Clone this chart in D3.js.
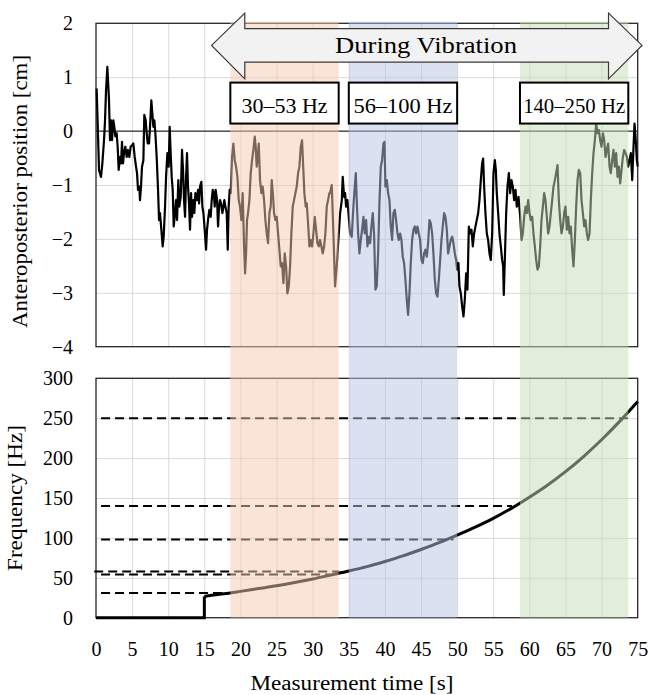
<!DOCTYPE html>
<html>
<head>
<meta charset="utf-8">
<script src="https://cdn.jsdelivr.net/npm/d3@7"></script>
<style>
  body { margin: 0; background: #fff; }
  svg text { font-family: "Liberation Serif", "Times New Roman", serif; fill: #000; }
</style>
</head>
<body>
<svg id="chart" width="650" height="695"></svg>
<script>
// axis ticks
const timeTicks = [0, 5, 10, 15, 20, 25, 30, 35, 40, 45, 50, 55, 60, 65, 70, 75];
const swayTicks = [2, 1, 0, -1, -2, -3, -4];
const freqTicks = [0, 50, 100, 150, 200, 250, 300];

// anteroposterior position [cm] over time [s]
const sway = [
  [0.09, 0.79], [0.42, -0.72], [0.69, -0.85], [0.88, -0.60], [1.11, -0.17], [1.25, 0.20], [1.39, 0.76], [1.57, 1.19],
  [1.71, 0.82], [1.80, 0.57], [1.94, -0.17], [2.08, 0.20], [2.22, -0.17], [2.40, 0.20], [2.54, 0.08], [2.68, -0.10],
  [2.86, -0.04], [3.00, -0.29], [3.14, -0.72], [3.32, -0.48], [3.46, -0.60], [3.60, -0.20], [3.74, -0.60], [3.88, -0.41],
  [4.06, -0.29], [4.25, -0.48], [4.43, -0.35], [4.62, -0.48], [4.80, -0.29], [4.99, -0.26], [5.17, -0.23], [5.36, -0.48],
  [5.54, -0.66], [5.68, -0.78], [5.82, -1.09], [6.00, -1.03], [6.09, -1.28], [6.23, -1.03], [6.37, -0.66], [6.56, -0.54],
  [6.69, 0.30], [6.88, 0.20], [7.02, -0.04], [7.16, -0.23], [7.34, -0.23], [7.48, 0.08], [7.66, 0.57], [7.80, 0.33],
  [7.94, 0.08], [8.08, 0.20], [8.22, -0.04], [8.40, -0.48], [8.59, -1.09], [8.73, -1.65], [8.86, -1.52], [9.05, -1.83],
  [9.23, -2.14], [9.37, -1.96], [9.56, -1.40], [9.70, -0.85], [9.88, -0.41], [10.06, -0.66], [10.20, 0.08], [10.34, -0.41],
  [10.48, -0.85], [10.62, -1.09], [10.76, -1.77], [10.94, -1.52], [11.08, -1.28], [11.22, -1.65], [11.40, -0.91], [11.54, -1.40],
  [11.73, -1.22], [11.91, -0.35], [12.05, -0.72], [12.19, -1.28], [12.33, -1.59], [12.47, -0.85], [12.60, -0.41], [12.74, -1.03],
  [12.88, -1.34], [13.02, -1.83], [13.16, -1.15], [13.30, -1.59], [13.48, -1.28], [13.62, -1.52], [13.76, -1.15], [13.94, -1.28],
  [14.13, -1.09], [14.27, -1.34], [14.40, -1.03], [14.59, -0.94], [14.73, -1.40], [14.87, -1.52], [15.05, -1.83], [15.24, -2.20],
  [15.37, -1.83], [15.56, -1.59], [15.70, -1.46], [15.88, -1.59], [16.02, -1.28], [16.16, -1.09], [16.30, -1.15], [16.44, -1.40],
  [16.57, -1.09], [16.76, -1.28], [16.90, -1.77], [17.04, -1.40], [17.17, -1.28], [17.31, -1.34], [17.50, -1.52], [17.64, -1.40],
  [17.77, -1.28], [17.91, -1.40], [18.10, -1.52], [18.24, -2.20], [18.37, -1.40], [18.51, -1.09], [18.65, -1.15], [18.84, -0.48],
  [19.02, -0.23], [19.21, -0.54], [19.39, -0.66], [19.58, -0.85], [19.76, -1.28], [19.94, -1.40], [20.13, -1.65], [20.31, -1.15],
  [20.50, -2.14], [20.64, -2.64], [20.78, -2.27], [20.91, -1.65], [21.05, -1.52], [21.24, -1.28], [21.42, -0.78], [21.61, -0.54],
  [21.79, -0.35], [21.98, -0.10], [22.11, -0.29], [22.25, -0.66], [22.39, -0.48], [22.53, -0.23], [22.71, -0.91], [22.90, -1.15],
  [23.08, -1.03], [23.27, -1.28], [23.45, -1.65], [23.64, -1.90], [23.82, -2.08], [24.01, -1.52], [24.19, -1.40], [24.33, -0.91],
  [24.52, -1.22], [24.65, -1.52], [24.84, -1.65], [25.02, -1.59], [25.21, -1.90], [25.39, -2.20], [25.58, -2.51], [25.76, -2.45],
  [25.95, -2.82], [26.13, -2.27], [26.32, -2.51], [26.50, -3.01], [26.69, -2.88], [26.87, -2.51], [27.05, -1.90], [27.24, -1.40],
  [27.42, -1.28], [27.61, -1.15], [27.79, -1.03], [27.98, -0.78], [28.16, -0.66], [28.35, -0.29], [28.53, -0.17], [28.67, -0.60],
  [28.85, -1.15], [29.04, -1.40], [29.18, -1.34], [29.36, -1.71], [29.55, -2.14], [29.73, -2.02], [29.92, -2.14], [30.10, -1.90],
  [30.29, -1.59], [30.47, -1.83], [30.66, -2.08], [30.84, -2.14], [31.02, -2.02], [31.21, -2.14], [31.39, -2.27], [31.58, -2.14],
  [31.76, -1.90], [31.95, -1.40], [32.13, -1.28], [32.32, -1.15], [32.41, -1.15], [32.64, -1.00], [32.87, -1.90], [33.10, -2.88],
  [33.33, -2.51], [33.56, -2.02], [33.80, -1.52], [34.03, -1.28], [34.16, -0.85], [34.35, -1.22], [34.49, -1.15], [34.63, -1.40],
  [34.81, -1.28], [35.18, -1.90], [35.41, -1.96], [35.64, -1.40], [35.83, -1.03], [35.97, -0.78], [36.10, -1.28], [36.29, -1.90],
  [36.47, -2.27], [36.66, -2.02], [36.84, -1.83], [37.03, -1.59], [37.21, -1.90], [37.40, -1.65], [37.58, -2.14], [37.77, -1.96],
  [37.95, -2.08], [38.13, -1.77], [38.32, -1.52], [38.50, -1.90], [38.69, -2.94], [38.87, -2.88], [39.06, -2.27], [39.24, -1.34],
  [39.43, -0.66], [39.61, -0.54], [39.80, -0.23], [39.94, -0.20], [40.07, -1.03], [40.26, -0.91], [40.44, -1.15], [40.63, -1.28],
  [40.81, -1.77], [41.00, -2.02], [41.18, -1.52], [41.37, -1.46], [41.55, -1.65], [41.74, -1.90], [41.92, -2.02], [42.11, -1.90],
  [42.29, -2.02], [42.47, -2.33], [42.66, -2.45], [42.84, -2.76], [43.03, -3.13], [43.21, -3.41], [43.40, -3.01], [43.58, -2.45],
  [43.77, -2.02], [43.95, -1.83], [44.14, -1.77], [44.32, -1.90], [44.51, -1.77], [44.69, -1.90], [44.88, -2.02], [45.06, -2.39],
  [45.24, -2.45], [45.43, -2.27], [45.61, -2.20], [45.80, -2.33], [45.98, -2.08], [46.17, -1.65], [46.35, -1.71], [46.54, -1.90],
  [46.72, -2.27], [46.91, -2.76], [47.09, -3.01], [47.28, -3.07], [47.46, -2.76], [47.65, -2.39], [47.83, -2.02], [48.01, -1.77],
  [48.20, -1.52], [48.38, -1.59], [48.57, -1.83], [48.75, -2.27], [48.94, -2.14], [49.12, -2.02], [49.31, -1.96], [49.49, -2.08],
  [49.68, -2.27], [49.86, -2.39], [50.00, -2.57], [50.18, -2.45], [50.32, -2.88], [50.51, -3.01], [50.69, -3.25], [50.88, -3.44],
  [51.06, -3.13], [51.25, -2.64], [51.43, -2.94], [51.52, -2.39], [51.62, -1.77], [51.80, -1.90], [51.99, -1.83], [52.17, -2.14],
  [52.35, -1.90], [52.54, -1.77], [52.72, -1.65], [52.91, -1.52], [53.09, -1.28], [53.28, -0.91], [53.46, -0.60], [53.60, -0.51],
  [53.74, -1.03], [53.92, -1.52], [54.11, -1.90], [54.29, -2.02], [54.48, -2.27], [54.66, -2.39], [54.85, -1.90], [55.03, -0.78],
  [55.22, -0.54], [55.36, -0.72], [55.49, -1.15], [55.68, -1.52], [55.86, -1.90], [56.05, -2.14], [56.23, -2.39], [56.37, -2.51],
  [56.46, -3.04], [56.60, -2.39], [56.79, -1.52], [56.97, -1.03], [57.16, -0.78], [57.34, -1.15], [57.53, -0.91], [57.71, -1.03],
  [57.89, -1.28], [58.08, -1.09], [58.26, -1.40], [58.50, -1.22], [58.73, -1.59], [58.91, -2.02], [59.10, -1.90], [59.28, -1.59],
  [59.46, -1.40], [59.65, -1.52], [59.83, -1.28], [60.02, -1.52], [60.20, -1.65], [60.39, -1.59], [60.57, -1.90], [60.76, -2.14],
  [60.94, -2.39], [61.13, -2.57], [61.31, -2.51], [61.50, -2.14], [61.68, -1.65], [61.87, -1.40], [62.05, -1.15], [62.23, -1.28],
  [62.42, -1.59], [62.60, -1.90], [62.79, -1.77], [62.97, -1.52], [63.16, -1.28], [63.34, -1.03], [63.53, -0.91], [63.71, -0.78],
  [63.90, -0.63], [64.08, -1.28], [64.27, -1.65], [64.45, -1.90], [64.64, -1.77], [64.82, -1.52], [65.00, -1.40], [65.19, -1.83],
  [65.37, -1.59], [65.56, -1.90], [65.74, -1.77], [65.93, -2.20], [66.11, -2.51], [66.30, -2.02], [66.48, -1.40], [66.67, -0.91],
  [66.85, -0.72], [67.04, -0.78], [67.22, -1.28], [67.41, -1.52], [67.59, -1.77], [67.77, -1.65], [67.96, -1.90], [68.14, -2.02],
  [68.33, -1.90], [68.51, -1.28], [68.70, -0.78], [68.88, -0.41], [69.07, -0.17], [69.25, 0.14], [69.44, -0.04], [69.62, 0.02],
  [69.81, -0.17], [69.99, -0.29], [70.18, -0.04], [70.36, -0.17], [70.55, -0.48], [70.73, -0.35], [70.91, -0.23], [71.10, -0.66],
  [71.28, -0.78], [71.47, -0.54], [71.65, -0.35], [71.84, -0.66], [72.02, -0.41], [72.21, -0.85], [72.39, -0.66], [72.58, -0.97],
  [72.76, -0.72], [72.95, -0.48], [73.13, -0.35], [73.32, -0.41], [73.50, -0.48], [73.68, -0.66], [73.87, -0.54], [74.05, -0.41],
  [74.24, -0.91], [74.42, -0.29], [74.56, 0.14], [74.70, -0.10], [74.88, -0.54], [75.0, -0.66]
];

// vibration frequency [Hz] over time [s]: off until 15 s, then sweeping up
const freqOffTime = [0, 15, 15];
const freqOffHz = [0, 0, 26.5];
const freqTime = [15, 16, 18.6, 20, 22.5, 25, 27.5, 30, 32.5, 35, 37.5, 40, 42.5, 45, 47.5, 50, 52.5, 55, 57.5, 60, 62.5, 65, 67.5, 70, 72.5, 75];
const freqHz = [26.5, 28, 31, 33, 36.5, 40, 44, 48.5, 53.5, 58.5, 64, 70.5, 77.5, 85.5, 94, 103.5, 113.5, 124.5, 137, 151, 166, 183, 202, 223, 246, 271];

// dashed reference levels
const refHz = [250, 140, 98, 58, 54, 31];
const refFrom = [0.7, 0.7, 0.7, -0.25, 0.7, 0.7];
const refTo = [73.7, 57.6, 49.5, 33.6, 32.3, 18.6];

// vibration bands
const bandLabels = ["30–53 Hz", "56–100 Hz", "140–250 Hz"];
const bandStart = [18.6, 35.0, 58.7];
const bandEnd = [33.6, 50.0, 73.7];
const bandColors = ["#F5C9AD", "#B5C5E3", "#C5DDB5"];
const bandLabelWidths = [86, 99, 102];

const svg = d3.select("#chart");

const x = d3.scaleLinear().domain([0, 75]).range([96, 637.7]);
const yTop = d3.scaleLinear().domain([-4, 2]).range([346.7, 23.3]);
const yBot = d3.scaleLinear().domain([0, 300]).range([617.7, 378.3]);
const plotW = x(75) - x(0);

const gridColor = "#d9d9d9";
const font = "'Liberation Serif', 'Times New Roman', serif";

function grid(yScale, yTicks) {
    const h = yScale.range()[0] - yScale.range()[1];
    svg.append("g")
        .attr("transform", `translate(0, ${yScale.range()[0]})`)
        .call(d3.axisBottom(x).tickValues(timeTicks.slice(1, -1)).tickSize(-h).tickFormat(""))
        .call(g => g.select(".domain").remove())
        .call(g => g.selectAll("line").attr("stroke", gridColor).attr("stroke-width", 1));
    svg.append("g")
        .attr("transform", `translate(${x(0)}, 0)`)
        .call(d3.axisLeft(yScale).tickValues(yTicks.slice(1, -1)).tickSize(-plotW).tickFormat(""))
        .call(g => g.select(".domain").remove())
        .call(g => g.selectAll("line").attr("stroke", gridColor).attr("stroke-width", 1));
}

grid(yTop, swayTicks.slice().reverse());
grid(yBot, freqTicks);

// zero line on the top chart
svg.append("line")
    .attr("x1", x(0)).attr("x2", x(75))
    .attr("y1", yTop(0)).attr("y2", yTop(0))
    .attr("stroke", "#000").attr("stroke-width", 1);

// frames
[yTop, yBot].forEach(ys => {
    svg.append("rect")
        .attr("x", x(0)).attr("y", ys.range()[1])
        .attr("width", plotW).attr("height", ys.range()[0] - ys.range()[1])
        .attr("fill", "none").attr("stroke", "#262626").attr("stroke-width", 1.3);
});

// tick labels
function tickLabels(g) {
    g.select(".domain").remove();
    g.attr("font-size", 20).attr("font-family", font);
    g.selectAll("text").attr("fill", "#000");
}
svg.append("g")
    .attr("transform", `translate(${x(0)}, 0)`)
    .call(d3.axisLeft(yTop).tickValues(swayTicks).tickSize(0).tickPadding(23).tickFormat(d3.format("d")))
    .call(tickLabels);
svg.append("g")
    .attr("transform", `translate(${x(0)}, 0)`)
    .call(d3.axisLeft(yBot).tickValues(freqTicks).tickSize(0).tickPadding(23))
    .call(tickLabels);
svg.append("g")
    .attr("transform", `translate(0, ${yBot(0)})`)
    .call(d3.axisBottom(x).tickValues(timeTicks).tickSize(0).tickPadding(24))
    .call(tickLabels);

// sway trace
svg.append("path")
    .datum(sway)
    .attr("d", d3.line().x(d => x(d[0])).y(d => yTop(d[1])))
    .attr("fill", "none").attr("stroke", "#000").attr("stroke-width", 2.2)
    .attr("stroke-linejoin", "round");

// dashed reference levels
svg.append("g").selectAll("line")
    .data(refHz)
    .join("line")
    .attr("x1", (d, i) => x(refFrom[i])).attr("x2", (d, i) => x(refTo[i]))
    .attr("y1", d => yBot(d)).attr("y2", d => yBot(d))
    .attr("stroke", "#000").attr("stroke-width", 2).attr("stroke-dasharray", "9,5");

// frequency curve
svg.append("path")
    .datum(d3.zip(freqOffTime, freqOffHz))
    .attr("d", d3.line().x(d => x(d[0])).y(d => yBot(d[1])))
    .attr("fill", "none").attr("stroke", "#000").attr("stroke-width", 3)
    .attr("stroke-linejoin", "miter");
svg.append("path")
    .datum(d3.zip(freqTime, freqHz))
    .attr("d", d3.line().curve(d3.curveMonotoneX).x(d => x(d[0])).y(d => yBot(d[1])))
    .attr("fill", "none").attr("stroke", "#000").attr("stroke-width", 3)
    .attr("stroke-linejoin", "round");

// translucent bands spanning both charts
svg.append("g").selectAll("rect")
    .data(bandStart)
    .join("rect")
    .attr("x", (d, i) => x(d))
    .attr("width", (d, i) => x(bandEnd[i]) - x(d))
    .attr("y", 21.7)
    .attr("height", yBot(0) - 21.7)
    .attr("fill", (d, i) => bandColors[i])
    .attr("fill-opacity", 0.5);

// "During Vibration" double arrow
const tipL = 16.0, tipR = 75.6, headL = 20.6, headR = 70.96;
const aMid = 1.59, aHeadTop = 2.19, aHeadBot = 0.97, aShaftTop = 1.90, aShaftBot = 1.28;
const arrowPts = [
    [tipL, aMid], [headL, aHeadTop], [headL, aShaftTop], [headR, aShaftTop], [headR, aHeadTop],
    [tipR, aMid], [headR, aHeadBot], [headR, aShaftBot], [headL, aShaftBot], [headL, aHeadBot]
];
svg.append("path")
    .attr("d", d3.line().x(d => x(d[0])).y(d => yTop(d[1]))(arrowPts) + "Z")
    .attr("fill", "#f2f2f2").attr("stroke", "#3a3a3a").attr("stroke-width", 1.2)
    .attr("stroke-linejoin", "miter");
svg.append("text")
    .attr("x", 426).attr("y", 53.3)
    .attr("text-anchor", "middle")
    .attr("font-size", 24)
    .attr("textLength", 182).attr("lengthAdjust", "spacingAndGlyphs")
    .text("During Vibration");

// band label boxes
const boxTop = 0.90, boxBot = 0.14;
bandLabels.forEach((lab, i) => {
    svg.append("rect")
        .attr("x", x(bandStart[i])).attr("y", yTop(boxTop))
        .attr("width", x(bandEnd[i]) - x(bandStart[i]))
        .attr("height", yTop(boxBot) - yTop(boxTop))
        .attr("fill", "#fff").attr("stroke", "#000").attr("stroke-width", 2);
    svg.append("text")
        .attr("x", (x(bandStart[i]) + x(bandEnd[i])) / 2)
        .attr("y", 113)
        .attr("text-anchor", "middle")
        .attr("font-size", 22)
        .attr("textLength", bandLabelWidths[i]).attr("lengthAdjust", "spacingAndGlyphs")
        .text(lab);
});

// axis titles
svg.append("text")
    .attr("transform", "translate(27, 191.5) rotate(-90)")
    .attr("text-anchor", "middle")
    .attr("font-size", 20)
    .attr("textLength", 273).attr("lengthAdjust", "spacingAndGlyphs")
    .text("Anteroposterior position [cm]");

svg.append("text")
    .attr("transform", "translate(22, 498) rotate(-90)")
    .attr("text-anchor", "middle")
    .attr("font-size", 20)
    .attr("textLength", 146).attr("lengthAdjust", "spacingAndGlyphs")
    .text("Frequency [Hz]");

svg.append("text")
    .attr("x", 352).attr("y", 690)
    .attr("text-anchor", "middle")
    .attr("font-size", 20)
    .attr("textLength", 203).attr("lengthAdjust", "spacingAndGlyphs")
    .text("Measurement time [s]");
</script>
</body>
</html>
